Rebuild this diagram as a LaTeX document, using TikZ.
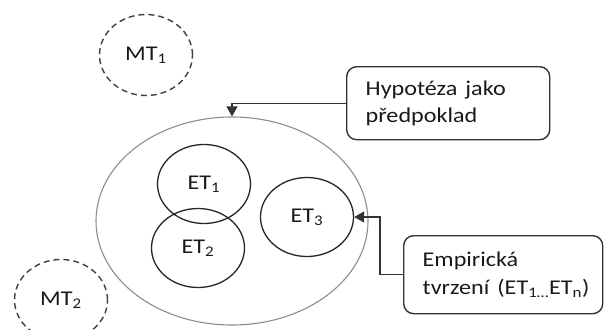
\documentclass[tikz,border=0pt]{standalone}
\usepackage{fontspec}
\setmainfont{Carlito}
\usetikzlibrary{shapes.geometric,arrows.meta}
% slightly widened lettering
\newcommand\wide[1]{\scalebox{1.15}[1]{#1}}
\begin{document}
\begin{tikzpicture}[x=1pt,y=-1pt,
  lbl/.style={font=\fontsize{21}{27.5}\selectfont, text=black!90},
  thought/.style={ellipse, draw=black!75, line width=1.4pt, dash pattern=on 6pt off 4pt,
    inner sep=0pt, minimum width=93pt, minimum height=81pt, lbl},
  claim/.style={ellipse, draw=black!85, line width=1.3pt, inner sep=0pt,
    minimum width=93pt, minimum height=79pt, lbl},
  frame/.style={ellipse, draw=black!45, line width=1.1pt, inner sep=0pt,
    minimum width=272pt, minimum height=208pt},
  note/.style={draw=black!80, line width=1.4pt, rounded corners=10pt, align=left,
    anchor=north west, inner xsep=19pt, inner ysep=0pt, lbl},
  link/.style={draw=black!80, line width=1.4pt, -{Triangle[length=10pt,width=11pt]}}]

\useasboundingbox (0,0) rectangle (604,329);

% theoretical statements (dashed)
\node[thought] (mt1) at (146,55) {\wide{MT\textsubscript{1}}};
\begin{scope}
  \clip (0,0) rectangle (604,329);
  \node[thought] (mt2) at (61,300) {\wide{MT\textsubscript{2}}};
\end{scope}

% hypothesis frame with empirical statements
\node[frame] (hyp) at (232,221) {};
\node[claim] (et1) at (204,184) {\wide{ET\textsubscript{1}}};
\node[claim] (et2) at (198,248) {\wide{ET\textsubscript{2}}};
\node[claim] (et3) at (307,217) {\wide{ET\textsubscript{3}}};

% callouts
\node[note, text width=165pt, minimum height=73pt] (nhyp) at (346,66)
  {\wide{Hypotéza jako}\\\wide{předpoklad}};
\node[note, text width=161pt, minimum height=78pt] (nemp) at (403,235)
  {\wide{Empirická}\\\wide{tvrzení (ET\textsubscript{1…}ET\textsubscript{n})}};

% connectors
\draw[link] (nhyp.west) -| (hyp.north);
\draw[link] (nemp.west) -- ++(-23,0) |- (et3.east);
\end{tikzpicture}
\end{document}
